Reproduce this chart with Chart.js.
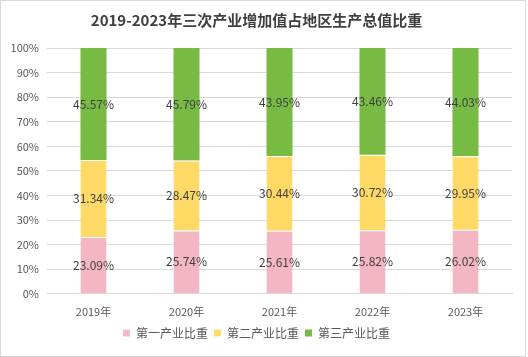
<!DOCTYPE html>
<html>
<head>
<meta charset="utf-8">
<script src="https://cdn.jsdelivr.net/npm/chart.js@4"></script>
<style>
html,body{margin:0;padding:0;background:#fff;}
#wrap{position:absolute;left:0;top:0;width:524px;height:355px;border:1px solid #d9d9d9;background:#fff;}
canvas{display:block;}
</style>
</head>
<body>
<div id="wrap"><canvas id="c" width="524" height="355"></canvas></div>
<script>
const categories = ['2019年','2020年','2021年','2022年','2023年'];
const primary = [23.09, 25.74, 25.61, 25.82, 26.02];
const secondary = [31.34, 28.47, 30.44, 30.72, 29.95];
const tertiary = [45.57, 45.79, 43.95, 43.46, 44.03];
const seriesNames = ['第一产业比重','第二产业比重','第三产业比重'];
const yTicks = [0,10,20,30,40,50,60,70,80,90,100];

const FONT = '"Noto Sans CJK SC", "Noto Sans", sans-serif';

const labelPlugin = {
  id: 'segLabels',
  afterDatasetsDraw(chart) {
    const ctx = chart.ctx;
    ctx.save();
    ctx.font = '12px ' + FONT;
    ctx.fillStyle = '#404040';
    ctx.textAlign = 'center';
    ctx.textBaseline = 'middle';
    chart.data.datasets.forEach((ds, i) => {
      const meta = chart.getDatasetMeta(i);
      meta.data.forEach((bar, j) => {
        const y = (bar.y + bar.base) / 2;
        ctx.fillText(ds.data[j].toFixed(2) + '%', bar.x, y);
      });
    });
    ctx.restore();
  }
};

new Chart(document.getElementById('c'), {
  type: 'bar',
  data: {
    labels: categories,
    datasets: [
      {label: seriesNames[0], data: primary, backgroundColor: '#F4B6C2', borderColor:'#ffffff', borderWidth:{top:1,left:0,right:0,bottom:0}, borderSkipped:false},
      {label: seriesNames[1], data: secondary, backgroundColor: '#FFD966', borderColor:'#ffffff', borderWidth:{top:1,left:0,right:0,bottom:0}, borderSkipped:false},
      {label: seriesNames[2], data: tertiary, backgroundColor: '#77BB44', borderColor:'#ffffff', borderWidth:0}
    ]
  },
  options: {
    responsive: false,
    animation: false,
    layout: {padding: {left: 0, right: 13, top: 4, bottom: 7}},
    datasets: {bar: {categoryPercentage: 1, barPercentage: 0.28}},
    scales: {
      x: {
        stacked: true,
        grid: {display: false},
        border: {display: true, color: '#d9d9d9'},
        ticks: {color: '#595959', font: {size: 11, family: FONT}, padding: 3}
      },
      y: {
        stacked: true,
        min: 0, max: 100,
        afterBuildTicks(axis){ axis.ticks = yTicks.map(v => ({value: v})); },
        afterFit(axis){ axis.width = 46; },
        grid: {color: '#d9d9d9', drawTicks: false},
        border: {display: false},
        ticks: {color: '#595959', font: {size: 11, family: FONT}, padding: 8, callback: v => v + '%'}
      }
    },
    plugins: {
      title: {display: true, text: '2019-2023年三次产业增加值占地区生产总值比重', color: '#404040', font: {size: 15, weight: 'bold', family: FONT}, padding: {top: 6, bottom: 19}},
      legend: {position: 'bottom', labels: {boxWidth: 7, boxHeight: 7, color: '#595959', font: {size: 12, family: FONT}, padding: 6}},
      tooltip: {enabled: false}
    }
  },
  plugins: [labelPlugin]
});
</script>
</body>
</html>
